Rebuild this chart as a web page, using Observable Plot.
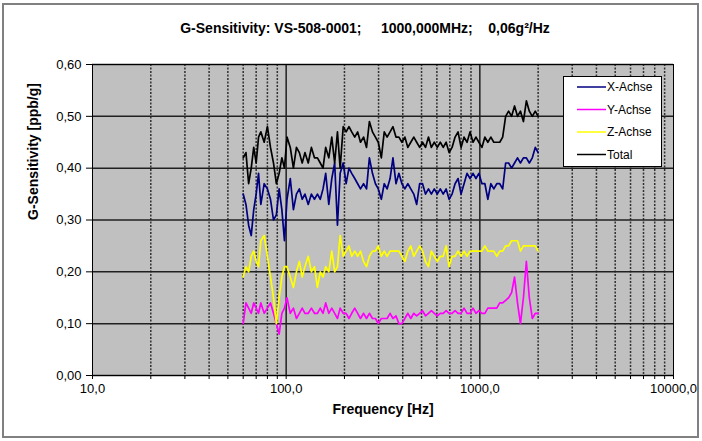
<!DOCTYPE html>
<html><head><meta charset="utf-8">
<script src="https://cdn.jsdelivr.net/npm/d3@7"></script>
<script src="https://cdn.jsdelivr.net/npm/@observablehq/plot@0.6"></script>
<style>
body{margin:0;background:#fff;}
#wrap{position:relative;width:702px;height:441px;overflow:hidden;font-family:Arial,"Liberation Sans",sans-serif;}
#border{position:absolute;left:2px;top:3px;width:693px;height:431px;border:2px solid #808080;pointer-events:none;}
#title{position:absolute;left:0;width:730px;top:20px;text-align:center;font-weight:bold;font-size:14px;white-space:pre;}
#legend{position:absolute;left:563px;top:76px;width:97px;height:89px;border:1px solid #000;background:#fff;}
#legend svg{position:absolute;left:0;top:0;}
#wrap > svg{position:absolute;left:0;top:0;}
</style></head><body>
<div id="wrap"><div id="title"></div><div id="border"></div></div>
<script>
const titleText = "G-Sensitivity: VS-508-0001;\u00a0\u00a0\u00a0\u00a0 1000,000MHz;\u00a0\u00a0\u00a0 0,06g\u00b2/Hz";
const xLabel = "Frequency [Hz]";
const yLabel = "G-Sensitivity [ppb/g]";

const freq = [60,62,64,66,68,70,72,74,77,80,83,86,89,92,95,98,101,105,109,113,117,121,125,130,135,140,
  145,150,155,160,166,172,178,184,190,197,204,211,218,226,234,242,251,260,269,279,289,299,310,321,332,344,
  356,369,382,396,410,425,440,456,472,489,506,524,543,562,582,603,625,647,670,694,719,745,772,800,829,859,
  890,922,955,989,1025,1062,1100,1140,1181,1223,1267,1312,1359,1408,1459,1511,1565,1621,1679,1739,1801,1866,1933,2000];

const xAchse = [0.35,0.33,0.29,0.27,0.32,0.35,0.39,0.33,0.37,0.36,0.34,0.30,0.31,0.36,0.32,0.26,0.34,0.38,0.32,0.35,0.36,0.34,0.35,0.33,0.35,0.34,
  0.35,0.34,0.36,0.39,0.33,0.38,0.41,0.29,0.39,0.41,0.37,0.40,0.39,0.38,0.37,0.36,0.37,0.36,0.42,0.39,0.37,0.36,0.34,0.37,0.36,0.38,
  0.42,0.37,0.39,0.37,0.36,0.37,0.36,0.35,0.33,0.37,0.37,0.35,0.36,0.35,0.36,0.35,0.36,0.35,0.36,0.34,0.35,0.37,0.38,0.35,0.37,0.39,
  0.38,0.39,0.38,0.39,0.37,0.37,0.34,0.37,0.36,0.37,0.37,0.36,0.41,0.41,0.40,0.41,0.42,0.41,0.42,0.42,0.41,0.42,0.44,0.43];

const yAchse = [0.10,0.14,0.13,0.12,0.14,0.13,0.12,0.14,0.12,0.13,0.14,0.12,0.10,0.08,0.12,0.13,0.15,0.12,0.13,0.11,0.12,0.13,0.12,0.12,0.13,0.12,
  0.12,0.13,0.12,0.14,0.12,0.13,0.12,0.11,0.13,0.12,0.12,0.11,0.12,0.13,0.12,0.11,0.12,0.11,0.12,0.11,0.11,0.10,0.11,0.11,0.11,0.12,
  0.11,0.115,0.10,0.10,0.11,0.12,0.11,0.12,0.115,0.12,0.125,0.115,0.12,0.125,0.12,0.115,0.12,0.12,0.125,0.12,0.12,0.125,0.12,0.12,0.13,0.12,
  0.12,0.13,0.12,0.125,0.12,0.12,0.13,0.13,0.13,0.13,0.14,0.14,0.145,0.15,0.16,0.19,0.14,0.10,0.15,0.22,0.15,0.11,0.12,0.12];

const zAchse = [0.19,0.21,0.20,0.23,0.24,0.22,0.21,0.26,0.27,0.23,0.19,0.15,0.10,0.15,0.19,0.21,0.21,0.19,0.17,0.20,0.22,0.19,0.21,0.23,0.20,0.21,
  0.17,0.20,0.19,0.21,0.20,0.24,0.20,0.21,0.27,0.23,0.24,0.25,0.23,0.24,0.23,0.24,0.22,0.21,0.23,0.24,0.24,0.25,0.23,0.24,0.23,0.24,
  0.24,0.24,0.24,0.23,0.22,0.24,0.25,0.23,0.24,0.25,0.24,0.22,0.21,0.24,0.23,0.22,0.23,0.23,0.25,0.21,0.23,0.23,0.24,0.23,0.24,0.23,
  0.24,0.24,0.24,0.24,0.24,0.25,0.24,0.24,0.24,0.23,0.24,0.24,0.25,0.25,0.26,0.26,0.26,0.24,0.25,0.25,0.25,0.25,0.25,0.24];

const total = [0.42,0.43,0.37,0.40,0.44,0.41,0.46,0.47,0.45,0.48,0.44,0.41,0.37,0.39,0.42,0.40,0.46,0.44,0.40,0.44,0.43,0.41,0.43,0.41,0.44,0.42,
  0.42,0.41,0.40,0.44,0.42,0.46,0.41,0.47,0.40,0.48,0.47,0.48,0.47,0.46,0.47,0.45,0.46,0.44,0.49,0.47,0.46,0.45,0.42,0.47,0.46,0.47,
  0.48,0.46,0.46,0.45,0.46,0.44,0.45,0.46,0.45,0.44,0.45,0.44,0.46,0.44,0.45,0.44,0.45,0.44,0.45,0.43,0.44,0.46,0.47,0.44,0.46,0.45,
  0.47,0.45,0.46,0.45,0.44,0.46,0.45,0.46,0.45,0.45,0.45,0.46,0.50,0.51,0.50,0.52,0.50,0.51,0.49,0.53,0.51,0.50,0.51,0.50];

const seriesNames = ["X-Achse","Y-Achse","Z-Achse","Total"];
const seriesColors = ["#000080","#FF00FF","#FFFF00","#000000"];
const seriesValues = [xAchse, yAchse, zAchse, total];

const yTicks = [0,0.1,0.2,0.3,0.4,0.5,0.6];
const xDecades = [10,100,1000,10000];
const xMajorGrid = [100,1000];
const xMinorGrid = [20,30,40,50,60,70,80,90,200,300,400,500,600,700,800,900,2000,3000,4000,5000,6000,7000,8000,9000];

const rows = seriesNames.flatMap((name, s) => freq.map((f, i) => ({f, v: seriesValues[s][i], name})));
const comma = (d, n) => d.toFixed(n).replace(".", ",");

const chart = Plot.plot({
  width: 702, height: 441,
  marginLeft: 92, marginRight: 29, marginTop: 64, marginBottom: 66,
  x: {type: "log", domain: [10, 10000]},
  y: {domain: [0, 0.6]},
  color: {domain: seriesNames, range: seriesColors},
  style: {fontFamily: "Arial, 'Liberation Sans', sans-serif", fontSize: "13px", background: "transparent", color: "#000"},
  marks: [
    Plot.frame({fill: "#C0C0C0", stroke: null}),
    Plot.ruleX(xMinorGrid, {stroke: "#303030", strokeWidth: 1.5, strokeDasharray: "2,1.5"}),
    Plot.ruleX(xMajorGrid, {stroke: "#202020", strokeWidth: 1.5}),
    Plot.ruleY(yTicks, {stroke: "#202020", strokeWidth: 1.5}),
    Plot.line(rows, {x: "f", y: "v", z: "name", stroke: "name", strokeWidth: 1.7}),
    Plot.frame({stroke: "#000", strokeWidth: 1}),
    Plot.axisY({ticks: yTicks, tickFormat: d => comma(d, 2), tickSize: 6, tickPadding: 5, label: null, fontSize: 13}),
    Plot.axisX({ticks: [...xDecades, ...xMinorGrid], tickFormat: d => xDecades.includes(d) ? comma(d, 1) : "", tickSize: 4, tickPadding: 4, label: null, fontSize: 13}),
    Plot.text([xLabel], {frameAnchor: "bottom", dy: 38, fontWeight: "bold", fontSize: 14}),
    Plot.text([yLabel], {frameAnchor: "left", dx: -59, rotate: -90, fontWeight: "bold", fontSize: 14})
  ]
});
const wrap = document.getElementById("wrap");
wrap.insertBefore(chart, wrap.firstChild);
document.getElementById("title").textContent = titleText;

// legend
const leg = document.createElement("div");
leg.id = "legend";
const ns = "http://www.w3.org/2000/svg";
const lsvg = document.createElementNS(ns, "svg");
lsvg.setAttribute("width", 97); lsvg.setAttribute("height", 89);
seriesNames.forEach((name, i) => {
  const yy = 10 + i * 22.5;
  const ln = document.createElementNS(ns, "line");
  ln.setAttribute("x1", 13); ln.setAttribute("x2", 42);
  ln.setAttribute("y1", yy); ln.setAttribute("y2", yy);
  ln.setAttribute("stroke", seriesColors[i]); ln.setAttribute("stroke-width", 1.5);
  lsvg.appendChild(ln);
  const tx = document.createElementNS(ns, "text");
  tx.setAttribute("x", 43); tx.setAttribute("y", yy); tx.setAttribute("dy", "0.35em");
  tx.setAttribute("font-size", 12); tx.setAttribute("font-family", "Arial, 'Liberation Sans', sans-serif");
  tx.textContent = name;
  lsvg.appendChild(tx);
});
leg.appendChild(lsvg);
wrap.appendChild(leg);
</script>
</body></html>
